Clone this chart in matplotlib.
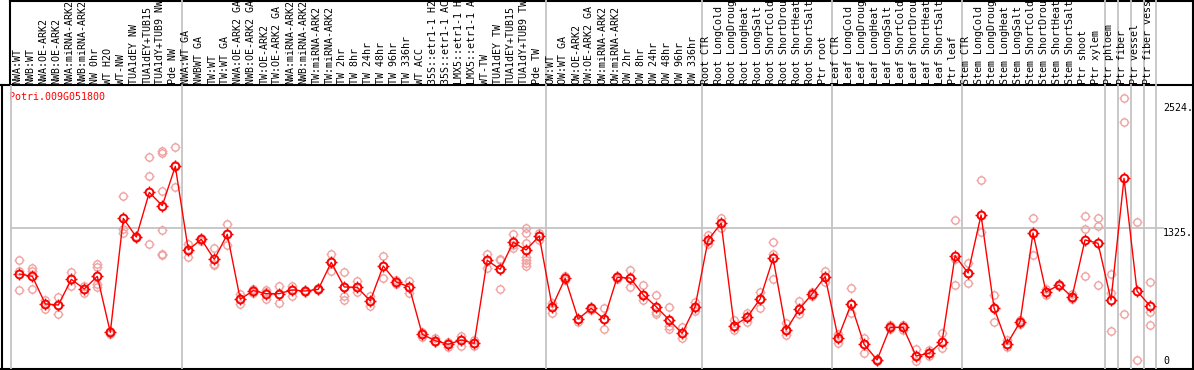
import matplotlib
matplotlib.use('Agg')
import matplotlib.pyplot as plt
from matplotlib.path import Path
from matplotlib.transforms import blended_transform_factory

gene = 'Potri.009G051800'

# sample names (as far as they are visible in the header)
labels = [
    'NWA:WT', 'NWB:WT', 'NWA:OE-ARK2', 'NWB:OE-ARK2', 'NWA:miRNA-ARK2', 'NWB:miRNA-ARK2',
    'NW 0hr', 'WT H2O', 'WT-NW', 'TUA1dEY NW', 'TUA1dEY+TUB15', 'TUA1dY+TUB9 NW', 'Pde NW',
    'NWA:WT GA', 'NWBWT GA', 'TW:WT', 'TW:WT GA', 'NWA:OE-ARK2 GA', 'NWB:OE-ARK2 GA',
    'TW:OE-ARK2', 'TW:OE-ARK2 GA', 'NWA:miRNA-ARK2', 'NWB:miRNA-ARK2', 'TW:miRNA-ARK2',
    'TW:miRNA-ARK2', 'TW 2hr', 'TW 8hr', 'TW 24hr', 'TW 48hr', 'TW 96hr', 'TW 336hr',
    'WT ACC', '35S::etr1-1 H2', '35S::etr1-1 AC', 'LMX5::etr1-1 H', 'LMX5::etr1-1 A',
    'WT-TW', 'TUA1dEY TW', 'TUA1dEY+TUB15', 'TUA1dY+TUB9 TW', 'Pde TW',
    'OW:WT', 'OW:WT GA', 'OW:OE-ARK2', 'OW:OE-ARK2 GA', 'OW:miRNA-ARK2', 'OW:miRNA-ARK2',
    'OW 2hr', 'OW 8hr', 'OW 24hr', 'OW 48hr', 'OW 96hr', 'OW 336hr',
    'Root CTR', 'Root LongCold', 'Root LongDroug', 'Root LongHeat', 'Root LongSalt',
    'Root ShortCold', 'Root ShortDrou', 'Root ShortHeat', 'Root ShortSalt', 'Ptr root',
    'Leaf CTR', 'Leaf LongCold', 'Leaf LongDroug', 'Leaf LongHeat', 'Leaf LongSalt',
    'Leaf ShortCold', 'Leaf ShortDrou', 'Leaf ShortHeat', 'Leaf ShortSalt', 'Ptr leaf',
    'Stem CTR', 'Stem LongCold', 'Stem LongDroug', 'Stem LongHeat', 'Stem LongSalt',
    'Stem ShortCold', 'Stem ShortDrou', 'Stem ShortHeat', 'Stem ShortSalt', 'Ptr shoot',
    'Ptr xylem', 'Ptr phloem', 'Ptr fiber', 'Ptr vessel', 'Ptr fiber vess',
]

# mean expression per sample
means = [
    882, 860, 595, 585, 831, 739, 860, 323, 1416, 1237, 1665, 1538, 1915,
    1113, 1215, 1023, 1263, 640, 723, 694, 694, 729, 719, 735, 994, 758, 755, 624,
    959, 806, 758, 304, 243, 208, 249, 217, 1014, 927, 1186, 1113, 1247,
    569, 841, 451, 553, 451, 850, 844, 684, 569, 441, 313, 569,
    1209, 1369, 387, 467, 643, 1033, 345, 544, 691, 857,
    271, 592, 208, 58, 371, 371, 96, 122, 233, 1058,
    892, 1448, 556, 211, 422, 1276, 710, 777, 662, 1209, 1177,
    633, 1800, 719, 576,
]

# replicate values per sample
reps = [
    [1014, 914, 726], [937, 914, 735], [633, 595, 544], [659, 585, 496],
    [902, 831, 764], [770, 739, 703], [975, 953, 787, 755], [340, 323, 310],
    [1633, 1311, 1279], [1250, 1237, 1225], [2002, 1820, 1167],
    [2062, 2046, 1675, 1301, 1070, 1060], [2098, 1925, 1720],
    [1170, 1120, 1049], [1230, 1215, 1200], [1129, 975, 965], [1359, 1263, 1161],
    [691, 640, 592], [742, 730, 697], [729, 710, 643], [770, 694, 601],
    [770, 729, 675], [730, 719, 708], [745, 735, 725], [1074, 994, 914],
    [898, 758, 671, 633], [815, 755, 706], [671, 624, 576], [1055, 959, 844],
    [820, 806, 790], [815, 758, 697], [329, 304, 275], [265, 243, 230],
    [233, 208, 185], [288, 249, 195], [249, 217, 195], [1070, 1014, 937],
    [1030, 1017, 927, 735], [1266, 1186, 1161, 1129],
    [1320, 1273, 1177, 1113, 1049, 1017, 991, 962], [1279, 1247, 1209],
    [607, 569, 505], [860, 841, 820], [451, 419], [570, 553, 540],
    [553, 451, 352], [865, 850, 835], [921, 844, 761], [777, 684, 633],
    [681, 569, 514, 496], [563, 441, 384, 352], [371, 313, 271], [617, 569, 530],
    [1257, 1209, 1170], [1423, 1369, 1320], [441, 387, 345], [512, 467, 419],
    [710, 643, 553], [1186, 1074, 831], [409, 345, 297], [624, 544, 496],
    [710, 691, 671], [911, 857, 809],
    [307, 271, 224], [745, 592, 505], [265, 208, 128], [70, 58, 45],
    [390, 371, 355], [393, 371, 345], [160, 96, 51], [154, 122, 100],
    [313, 233, 170], [1400, 1026, 777],
    [988, 892, 800], [1784, 1448, 1285], [681, 556, 422], [250, 211, 180],
    [440, 422, 400], [1420, 1276, 1065], [740, 710, 680], [790, 777, 765],
    [690, 662, 640], [1439, 1311, 863], [1423, 1343, 777],
    [882, 697, 339], [2568, 2338, 496], [1378, 58], [806, 521, 390],
]

group_ends = [12, 40, 52, 62, 72, 83, 84, 85, 86, 87]
ticks = [0, 1325, 2524]
tick_labels = ['0', '1325.', '2524.']

W, H = 1194, 370
fig = plt.figure(figsize=(W / 100, H / 100), dpi=100)

# frame layer, in pixels
frame = fig.add_axes([0, 0, 1, 1])
frame.set_xlim(0, W)
frame.set_ylim(H, 0)
frame.axis('off')
frame.patch.set_alpha(0)

ax = fig.add_axes([10.5 / W, 1 / H, 1146 / W, 284 / H])
ax.set_xlim(-0.68, 87.5)
ax.set_ylim(-28.8, 2695)
ax.axis('off')
ax.patch.set_alpha(0)

mono = dict(family='DejaVu Sans Mono', fontsize=7.2)
grey = '#c4c4c4'
trans = blended_transform_factory(ax.transData, fig.transFigure)

# separators, through the header too
ax.vlines([g + 0.5 for g in group_ends], 1 / H, 1, colors=grey, lw=1.3,
          transform=trans, clip_on=False, zorder=1)
ax.vlines([-0.68], 1 / H, (H - 85) / H, colors=grey, lw=1.3,
          transform=trans, clip_on=False, zorder=1)
ax.plot([-0.68, 88.0], [ticks[1], ticks[1]], color=grey, lw=1.3,
        clip_on=False, zorder=1)

# black frame lines
k = dict(color='black', lw=1.5)
frame.plot([0, W], [85, 85], **k)
frame.plot([0, W], [369, 369], **k)
frame.plot([1.5, 1.5], [85, 369], **k)
frame.plot([10, W], [0.7, 0.7], **k)
frame.plot([10, 10], [0, 85], **k)
frame.plot([W - 0.7, W - 0.7], [0, 369], **k)

# little ticks sticking out of each circle
tick_marker = Path([(0, 1), (0, 1.45), (0, -1), (0, -1.45),
                    (1, 0), (1.45, 0), (-1, 0), (-1.45, 0)],
                   [Path.MOVETO, Path.LINETO] * 4)

x = list(range(len(means)))

# replicates
rx, ry = [], []
for i, vals in enumerate(reps):
    for v in vals:
        rx.append(i)
        ry.append(v)
rep_col = '#f0a0a0'
ax.plot(rx, ry, 'o', ms=5.3, mfc='none', mec=rep_col, mew=1.0,
        clip_on=False, zorder=2)
ax.plot(rx, ry, ls='none', marker=tick_marker, ms=7.7, mec=rep_col, mew=0.9,
        clip_on=False, zorder=2)

# means
ax.plot(x, means, '-', color='red', lw=1.0, zorder=3)
ax.plot(x, means, 'o', ms=5.6, mfc='none', mec='red', mew=1.4,
        clip_on=False, zorder=4)
ax.plot(x, means, ls='none', marker=tick_marker, ms=8.1, mec='red', mew=1.0,
        clip_on=False, zorder=4)

# sample names
for i, lab in enumerate(labels):
    ax.text(i - 0.15, (H - 84) / H, lab, rotation=90, ha='center', va='bottom',
            transform=trans, clip_on=False, **mono)

# y labels on the right
for t, tl in zip(ticks, tick_labels):
    ax.text(88.0, t, tl, ha='left', va='bottom' if t == 0 else 'top',
            clip_on=False, **mono)

frame.text(9.5, 100.5, gene, color='red', ha='left', va='baseline', **mono)

fig.savefig('out.png', dpi=100)
